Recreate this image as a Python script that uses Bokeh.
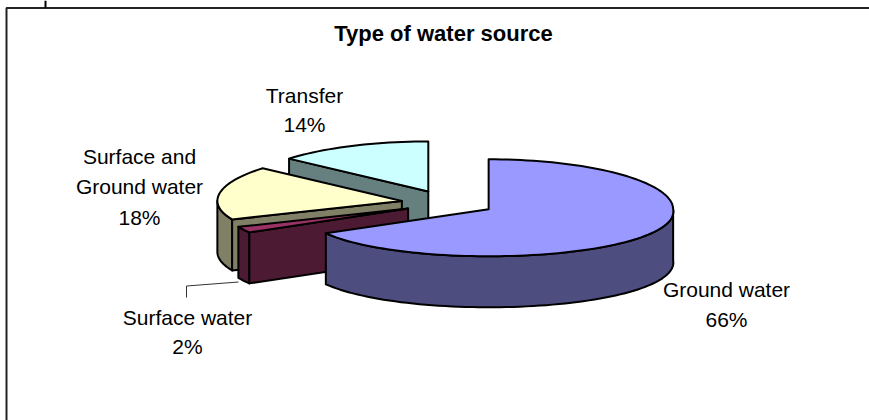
import math
from bokeh.plotting import figure
from bokeh.models import ColumnDataSource, Range1d
from bokeh.core.properties import value
from bokeh.embed import file_html
from bokeh.resources import INLINE

# --- data (slices run clockwise from 12 o'clock)
categories = ["Ground water", "Surface water", "Surface and Ground water", "Transfer"]
shares = [66.49, 2.1, 17.8, 13.61]
percent_labels = ["66%", "2%", "18%", "14%"]
title_text = "Type of water source"
top_colors = ["#9999ff", "#993366", "#ffffcc", "#ccffff"]
side_colors = ["#4d4d80", "#4d1a33", "#808066", "#668080"]
explode = [47.0, 44.5, 46.5, 47.0]
front_stretch = [0.05, 0.0, 0.0, 0.0]

# --- pie projection, in page pixels
CX, CY = 447.3, 202.5
RX, RY_BACK, RY_FRONT = 184.5, 50.0, 47.0
DEPTH = 51.0
RATIO = 0.27
FONT = "Liberation Sans"

W, H = 869, 420
p = figure(width=W, height=H, output_backend="svg", toolbar_location=None,
           x_range=Range1d(0, W), y_range=Range1d(H, 0), min_border=0,
           outline_line_color=None, background_fill_color="white",
           border_fill_color="white")
p.axis.visible = False
p.grid.visible = False
p.styles = {"position": "absolute", "left": "0px", "top": "0px"}

# chart frame (only the top and left edges are in view)
p.line([6, 6, W], [H, 7.5, 7.5], line_color="#222222", line_width=2)
p.line([45, 45], [0, 7], line_color="black", line_width=2)


def pt(ax, ay, deg, stretch, dz=0.0):
    t = math.radians(deg)
    c = math.cos(t)
    f = 1 + stretch * max(0.0, -c)
    ry = RY_BACK if c > 0 else RY_FRONT
    return ax + RX * f * math.sin(t), ay - ry * c + dz


def arc(ax, ay, a0, a1, stretch, dz=0.0):
    n = max(2, int(abs(a1 - a0) / 2) + 1)
    return [pt(ax, ay, a0 + (a1 - a0) * i / (n - 1), stretch, dz) for i in range(n)]


total = sum(shares)
spans, acc = [], 0.0
for s in shares:
    spans.append((acc / total * 360, (acc + s) / total * 360))
    acc += s

xs, ys, fills = [], [], []
# back-to-front painting order
for i in [3, 2, 1, 0]:
    a0, a1 = spans[i]
    st = front_stretch[i]
    mid = math.radians((a0 + a1) / 2)
    ax = CX + explode[i] * math.sin(mid)
    ay = CY - explode[i] * RATIO * math.cos(mid)
    # outer wall: the part of the rim that faces the viewer
    w0, w1 = max(a0, 90), min(a1, 270)
    if w1 > w0:
        top = arc(ax, ay, w0, w1, st)
        bot = arc(ax, ay, w1, w0, st, DEPTH)
        xs.append([q[0] for q in top + bot])
        ys.append([q[1] for q in top + bot])
        fills.append(side_colors[i])
    # cut face at the slice's start, visible on the left half
    if 180 < a0 < 360:
        e = pt(ax, ay, a0, st)
        xs.append([ax, e[0], e[0], ax])
        ys.append([ay, e[1], e[1] + DEPTH, ay + DEPTH])
        fills.append(side_colors[i])
    # top face
    rim = arc(ax, ay, a0, a1, st)
    xs.append([ax] + [q[0] for q in rim])
    ys.append([ay] + [q[1] for q in rim])
    fills.append(top_colors[i])

p.patches(xs="xs", ys="ys", fill_color="fills", line_color="black", line_width=2,
          line_join="round",
          source=ColumnDataSource(dict(xs=xs, ys=ys, fills=fills)))

# leader line of the small slice
p.line([186, 186, 238], [297, 285.5, 281.5], line_color="#333333", line_width=1)

# labels
lab_x = [726, 187, 139, 304]
lab_lines = [
    [("Ground water", 289), (percent_labels[0], 319)],
    [("Surface water", 317), (percent_labels[1], 346)],
    [("Surface and", 156), ("Ground water", 186), (percent_labels[2], 217)],
    [("Transfer", 95), (percent_labels[3], 124)],
]
tx, ty, tt = [], [], []
for x0, lines in zip(lab_x, lab_lines):
    for t, y0 in lines:
        tx.append(x0); ty.append(y0); tt.append(t)
p.text(x="x", y="y", text="t", source=ColumnDataSource(dict(x=tx, y=ty, t=tt)),
       text_font=value(FONT), text_font_size=value("21px"), text_color="black",
       text_align="center", text_baseline="middle")
p.text(x=[443], y=[33], text=[title_text], text_font=value(FONT), text_font_size=value("22px"),
       text_font_style="bold", text_color="black", text_align="center", text_baseline="middle")

open("out.html", "w").write(file_html(p, INLINE))
